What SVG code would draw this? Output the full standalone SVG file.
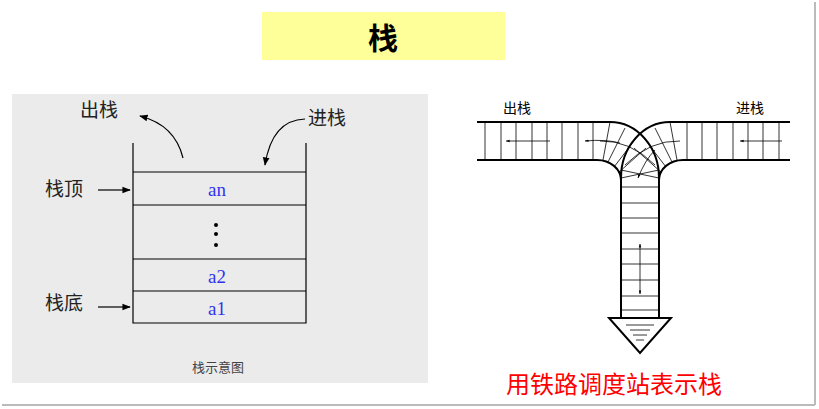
<svg xmlns="http://www.w3.org/2000/svg" width="819" height="409" viewBox="0 0 819 409">
<defs>
<marker id="ah" viewBox="0 0 10 10" refX="9" refY="5" markerWidth="7" markerHeight="7" orient="auto-start-reverse"><path d="M0,1 L10,5 L0,9 z" fill="#000"/></marker>
<marker id="as" viewBox="0 0 10 10" refX="9" refY="5" markerWidth="5" markerHeight="5" orient="auto-start-reverse"><path d="M0,2 L10,5 L0,8 z" fill="#000"/></marker>
</defs>
<style>
.cjk{font-family:"Noto Sans CJK SC","Noto Sans",sans-serif}
.l{stroke:#000;fill:none;stroke-width:1.2}
.t{stroke:#000;fill:none;stroke-width:2}
.th{stroke:#000;stroke-width:0.8;fill:none}
.blue{font-family:"Liberation Serif",serif;fill:#3333ee;font-size:19px;text-anchor:middle}
</style>
<rect width="819" height="409" fill="#fff"/>
<line x1="815" y1="2" x2="815" y2="405" stroke="#bbb" stroke-width="2"/>
<line x1="2" y1="405" x2="815" y2="405" stroke="#bbb" stroke-width="2"/>
<g id="title"><rect x="262" y="12" width="243" height="48" fill="#ffff99"/><text x="383" y="49" class="cjk" font-size="30" font-weight="bold" text-anchor="middle">栈</text></g>
<g id="stack-panel">
<rect x="12" y="94" width="416" height="289" fill="#ebebeb"/>
<path class="l" d="M133,143 V323 H306 V143 M133,172 H306 M133,205 H306 M133,259 H306 M133,291 H306"/>
<text x="217" y="196" class="blue">an</text>
<circle cx="216" cy="225" r="2" fill="#000"/><circle cx="216" cy="234" r="2" fill="#000"/><circle cx="216" cy="245" r="2" fill="#000"/>
<text x="217" y="283" class="blue">a2</text>
<text x="217" y="315" class="blue">a1</text>
<text x="80" y="117" class="cjk" font-size="19" fill="#222">出栈</text>
<text x="308" y="125" class="cjk" font-size="19" fill="#222">进栈</text>
<text x="45" y="196" class="cjk" font-size="19" fill="#222">栈顶</text>
<text x="45" y="310" class="cjk" font-size="19" fill="#222">栈底</text>
<text x="218" y="372" class="cjk" font-size="13" fill="#444" text-anchor="middle">栈示意图</text>
<path d="M183,158 Q175,125 140,116" class="l" stroke-width="1.6" marker-end="url(#ah)"/>
<path d="M305,119 Q272,120 265,165" class="l" stroke-width="1.6" marker-end="url(#ah)"/>
<path d="M98,190 H130" class="l" stroke-width="1.6" marker-end="url(#ah)"/>
<path d="M98,307 H130" class="l" stroke-width="1.6" marker-end="url(#ah)"/>
</g>
<g id="railway">
<text x="503" y="113" class="cjk" font-size="14">出栈</text>
<text x="736" y="113" class="cjk" font-size="14">进栈</text>
<path class="t" d="M477,122 H610 A49,56 0 0 1 659,178 V318 M790,122 H670 A49,56 0 0 0 621,178 V318 M477,160 H597 A24,20 0 0 1 621,180 M790,160 H683 A24,20 0 0 0 659,180"/>
<path class="th" d="M485,122V160M501,122V160M516,122V160M532,122V160M547,122V160M562,122V160M578,122V160M593,122V160 M687,122V160M702,122V160M717,122V160M733,122V160M748,122V160M763,122V160M779,122V160 M621,187H659M621,203H659M621,218H659M621,233H659M621,249H659M621,264H659M621,280H659M621,296H659M621,310H659"/>
<path class="th" d="M610,122 L603,160 M625,128 L608,162 M637,137 L614,167 M646,148 L618,173 M670,122 L677,160 M655,128 L672,162 M643,137 L666,167 M634,148 L662,173 M600,141 Q630,140 655,165 M680,141 Q650,140 625,165 M621,178 L659,170 M659,178 L621,170"/>
<path class="th" stroke-width="1" d="M550,141 H506" marker-end="url(#as)"/>
<path class="th" stroke-width="1" d="M782,141 H740" marker-end="url(#as)"/>
<path class="th" stroke-width="1" d="M620,143 Q605,139 585,141" marker-end="url(#as)"/>
<path class="th" stroke-width="1" d="M655,150 Q645,160 638,178" marker-end="url(#as)"/>
<path class="th" stroke-width="1" d="M640,244 V294" marker-start="url(#as)" marker-end="url(#as)"/>
<path d="M609,318 H671 L640,353 Z" fill="#fff" stroke="#000" stroke-width="2"/>
<path class="th" d="M626,325H654M630,330H650M633,335H647M636,340H644"/>
</g>
<text x="614" y="393" class="cjk" font-size="24" fill="#ff0000" text-anchor="middle">用铁路调度站表示栈</text>
</svg>
